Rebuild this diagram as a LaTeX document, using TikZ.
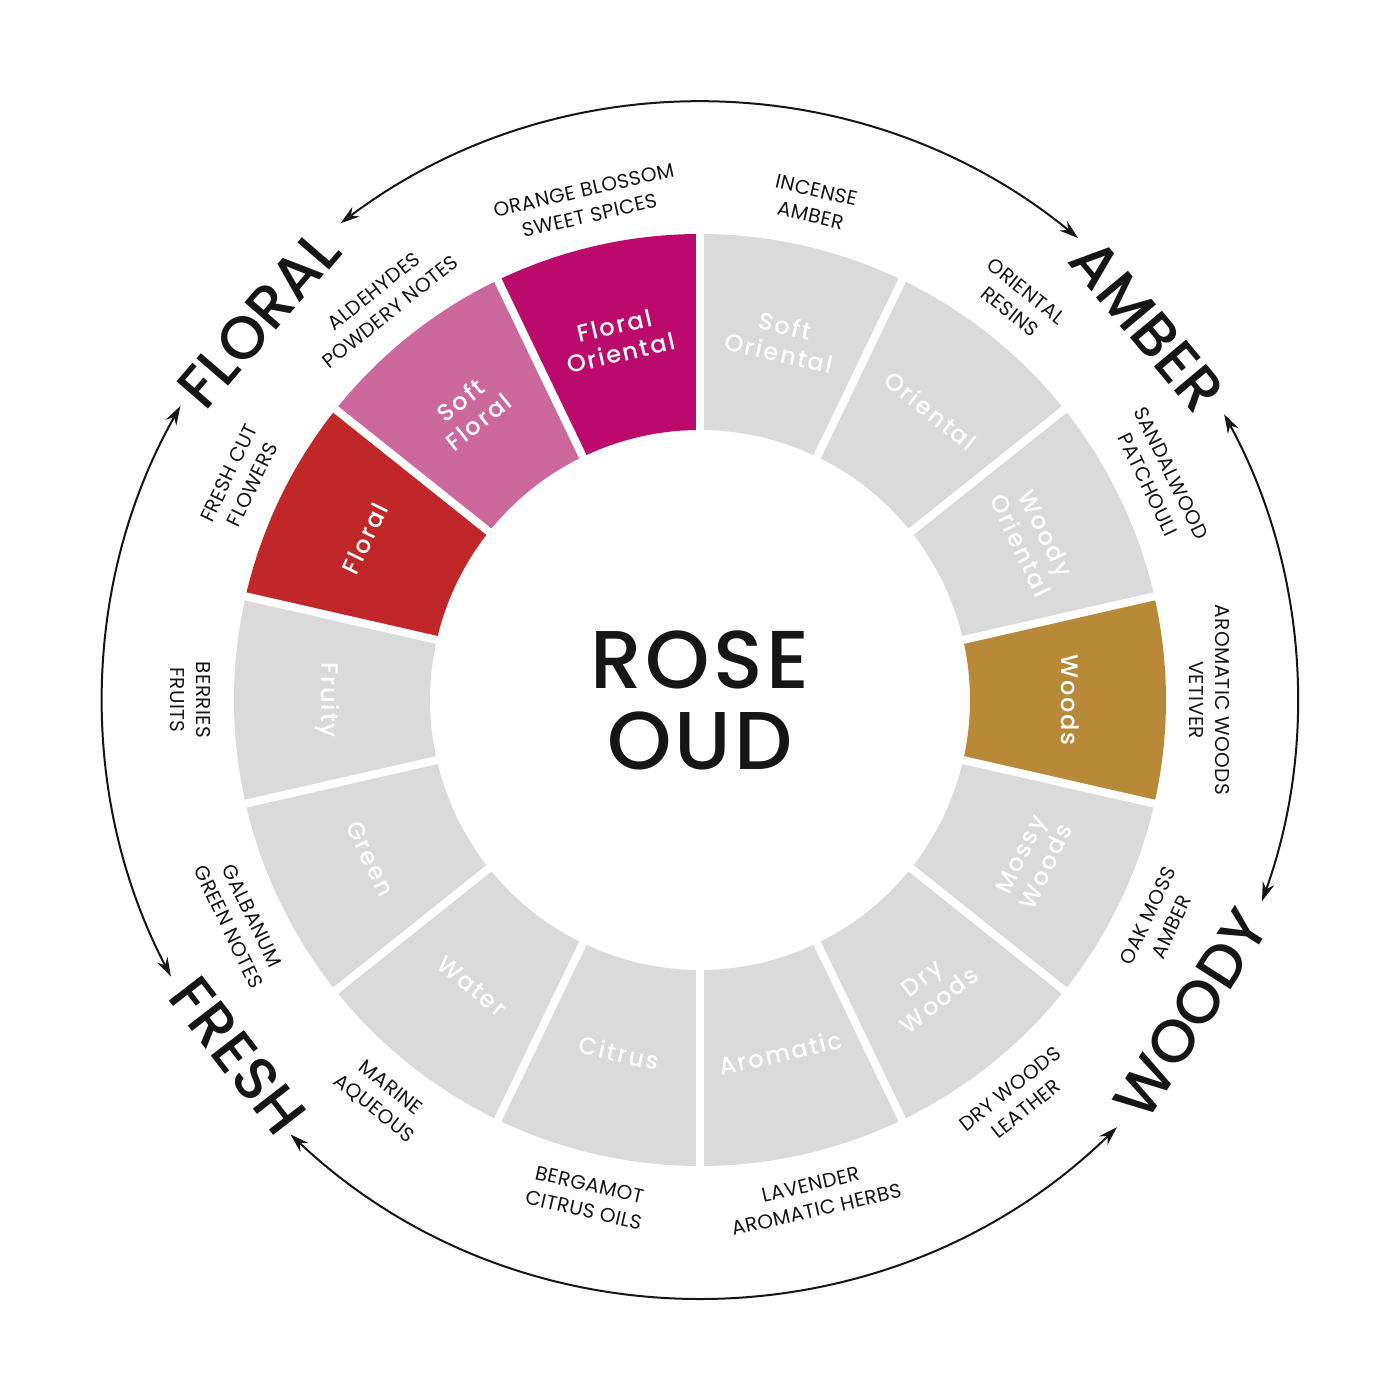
\documentclass[tikz,border=0pt]{standalone}
\usepackage{fontspec}
\setmainfont{Poppins}[UprightFont={* Medium}]
\newfontfamily\segfont{Poppins}[UprightFont={* Medium},LetterSpace=8]
\newfontfamily\labfont{Poppins}[LetterSpace=2]
\newfontfamily\titlefont{Poppins}[UprightFont={* Medium},LetterSpace=4]
\usetikzlibrary{arrows.meta}
\definecolor{cMag}{RGB}{188,10,108}
\definecolor{cPink}{RGB}{204,104,156}
\definecolor{cRed}{RGB}{193,39,40}
\definecolor{cGold}{RGB}{184,138,56}
\definecolor{cGrey}{RGB}{218,218,218}
\definecolor{cInk}{RGB}{22,22,22}
\begin{document}
\begin{tikzpicture}[x=1pt,y=1pt,
  seglabel/.style={font=\segfont\fontsize{24}{28}\selectfont, text=white, align=center, inner sep=0pt},
  outlabel/.style={font=\labfont\fontsize{20}{26}\selectfont, text=cInk, align=center, inner sep=0pt},
  catlabel/.style={font=\fontsize{60}{60}\selectfont, text=cInk, inner sep=0pt},
  centerlabel/.style={font=\titlefont\fontsize{82}{81}\selectfont, text=cInk, align=center, inner sep=0pt},
  cycarrow/.style={draw=cInk, line width=2pt, {Stealth[length=19pt,width=12pt]}-{Stealth[length=19pt,width=12pt]}},
  gapline/.style={draw=white, line width=8pt}
  ]
\useasboundingbox (-700,-700) rectangle (700,700);
\fill[white] (-700,-700) rectangle (700,700);
% segments
\foreach \a/\c in {102.857/cMag, 77.143/cGrey, 51.429/cGrey, 25.714/cGrey, 0/cGold,
  -25.714/cGrey, -51.429/cGrey, -77.143/cGrey, -102.857/cGrey, -128.571/cGrey,
  -154.286/cGrey, -180/cGrey, -205.714/cRed, -231.429/cPink}{
  \pgfmathsetmacro\sa{\a-12.857}
  \pgfmathsetmacro\ea{\a+12.857}
  \fill[\c] (\sa:270) arc[start angle=\sa, end angle=\ea, radius=270]
     -- (\ea:466) arc[start angle=\ea, end angle=\sa, radius=466] -- cycle;
}
\foreach \k in {0,...,13}{
  \pgfmathsetmacro\b{90+25.7143*\k}
  \draw[gapline] (0,0) -- (\b:480);
}
\fill[white] (0,0) circle[radius=268];
% segment labels
\node[seglabel, rotate=12.857] (sFO) at (102.857:370) {Floral\\Oriental};
\node[seglabel, rotate=-12.857] (sSO) at (77.143:370) {Soft\\Oriental};
\node[seglabel, rotate=-38.571] (sOr) at (51.429:370) {Oriental};
\node[seglabel, rotate=-64.286] (sWO) at (25.714:370) {Woody\\Oriental};
\node[seglabel, rotate=-90] (sWo) at (0:370) {Woods};
\node[seglabel, rotate=64.286] (sMW) at (-25.714:370) {Mossy\\Woods};
\node[seglabel, rotate=38.571] (sDW) at (-51.429:370) {Dry\\Woods};
\node[seglabel, rotate=12.857] (sAr) at (-77.143:362) {Aromatic};
\node[seglabel, rotate=-12.857] (sCi) at (-102.857:362) {Citrus};
\node[seglabel, rotate=-38.571] (sWa) at (-128.571:366) {Water};
\node[seglabel, rotate=-64.286] (sGr) at (-154.286:366) {Green};
\node[seglabel, rotate=-90] (sFr) at (180:372) {Fruity};
\node[seglabel, rotate=64.286] (sFl) at (154.286:372) {Floral};
\node[seglabel, rotate=38.571] (sSF) at (128.571:370) {Soft\\Floral};
% outer labels
\node[outlabel, rotate=12.857] (oFO) at (102.857:510) {ORANGE BLOSSOM\\SWEET SPICES};
\node[outlabel, rotate=-12.857] (oSO) at (77.143:510) {INCENSE\\AMBER};
\node[outlabel, rotate=-38.571] (oOr) at (51.429:510) {ORIENTAL\\RESINS};
\node[outlabel, rotate=-64.286] (oWO) at (25.714:510) {SANDALWOOD\\PATCHOULI};
\node[outlabel, rotate=-90] (oWo) at (0:510) {AROMATIC WOODS\\VETIVER};
\node[outlabel, rotate=64.286] (oMW) at (-25.714:510) {OAK MOSS\\AMBER};
\node[outlabel, rotate=38.571] (oDW) at (-51.429:510) {DRY WOODS\\LEATHER};
\node[outlabel, rotate=12.857] (oAr) at (-77.143:510) {LAVENDER\\AROMATIC HERBS};
\node[outlabel, rotate=-12.857] (oCi) at (-102.857:510) {BERGAMOT\\CITRUS OILS};
\node[outlabel, rotate=-38.571] (oWa) at (-128.571:510) {MARINE\\AQUEOUS};
\node[outlabel, rotate=-64.286] (oGr) at (-154.286:510) {GALBANUM\\GREEN NOTES};
\node[outlabel, rotate=-90] (oFr) at (180:510) {BERRIES\\FRUITS};
\node[outlabel, rotate=64.286] (oFl) at (154.286:510) {FRESH CUT\\FLOWERS};
\node[outlabel, rotate=38.571] (oSF) at (128.571:510) {ALDEHYDES\\POWDERY NOTES};
% category labels
\node[catlabel, rotate=49.2] (cFloral) at (139.2:583) {FLORAL};
\node[catlabel, rotate=-50.1] (cAmber) at (39.9:583) {AMBER};
\node[catlabel, rotate=57.4] (cWoody) at (-32.6:583) {WOODY};
\node[catlabel, rotate=-52.4] (cFresh) at (217.6:583) {FRESH};
% cycle arrows
\draw[cycarrow] (127:597) arc[start angle=127, end angle=50.7, radius=597];
\draw[cycarrow] (28.6:597) arc[start angle=28.6, end angle=-19.7, radius=597];
\draw[cycarrow] (-45.7:597) arc[start angle=-45.7, end angle=-133.3, radius=597];
\draw[cycarrow] (207.6:597) arc[start angle=207.6, end angle=150.5, radius=597];
% centre
\node[centerlabel] (title) at (0,0) {ROSE\\OUD};
\end{tikzpicture}
\end{document}
